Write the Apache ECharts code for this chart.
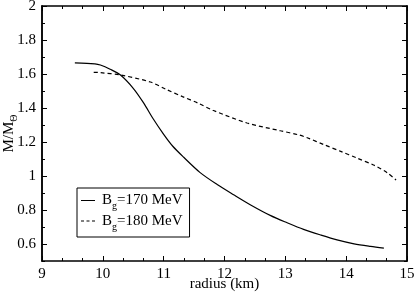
<!DOCTYPE html>
<html>
<head>
<meta charset="utf-8">
<script src="https://cdn.jsdelivr.net/npm/echarts@6/dist/echarts.min.js"></script>
<style>html,body{margin:0;padding:0;background:#fff}#c{width:415px;height:294px}</style>
</head>
<body>
<div id="c"></div>
<script>
// Data
const radius170 = [9.54, 9.87, 9.96, 10.12, 10.29, 10.50, 10.67, 10.83, 11.00, 11.15, 11.33, 11.60, 11.88, 12.15, 12.43, 12.76, 13.03, 13.30, 13.58, 13.85, 14.13, 14.40, 14.62];
const mass170   = [1.665, 1.660, 1.653, 1.628, 1.594, 1.516, 1.430, 1.335, 1.245, 1.175, 1.110, 1.020, 0.950, 0.890, 0.830, 0.767, 0.725, 0.686, 0.653, 0.624, 0.601, 0.586, 0.576];
const radius180 = [9.85, 9.96, 10.29, 10.78, 11.05, 11.31, 11.57, 11.82, 12.37, 12.92, 13.22, 13.36, 13.63, 13.91, 14.18, 14.46, 14.68, 14.82];
const mass180   = [1.610, 1.608, 1.594, 1.553, 1.508, 1.467, 1.428, 1.385, 1.312, 1.266, 1.242, 1.225, 1.185, 1.145, 1.105, 1.063, 1.018, 0.976];
const seriesNames = ['B_g=170 MeV', 'B_g=180 MeV'];
const yMajorTicks = [0.6, 0.8, 1.0, 1.2, 1.4, 1.6, 1.8, 2.0];
const yMinorTicks = [0.5, 0.7, 0.9, 1.1, 1.3, 1.5, 1.7, 1.9];
const xMin = 9, xMax = 15, yMin = 0.5, yMax = 2;

const FONT = 'Liberation Serif';
const chart = echarts.init(document.getElementById('c'));
const axisLine = {show: true, lineStyle: {color: '#000', width: 1.5}};
const baseX = {
  type: 'value', min: xMin, max: xMax, interval: 1,
  axisLine: axisLine,
  axisTick: {show: true, inside: true, length: 5, lineStyle: {color: '#000'}},
  minorTick: {show: true, splitNumber: 3, length: 3, lineStyle: {color: '#000'}},
  splitLine: {show: false}, minorSplitLine: {show: false}
};
const baseY = (pos, vals, len, labels) => ({
  type: 'value', min: yMin, max: yMax, position: pos,
  axisLine: axisLine,
  axisTick: {show: true, inside: true, length: len, customValues: vals, lineStyle: {color: '#000'}},
  axisLabel: labels ? {show: true, customValues: vals, color: '#000', fontFamily: FONT, fontSize: 15, margin: 6} : {show: false},
  splitLine: {show: false}
});

chart.setOption({
  animation: false,
  backgroundColor: '#fff',
  grid: {left: 42, right: 8, top: 6, bottom: 33, containLabel: false, outerBoundsMode: 'none'},
  legend: {
    orient: 'vertical', left: 77, top: 188,
    padding: [5, 7, 5, 4], itemGap: 2,
    borderColor: '#000', borderWidth: 1,
    itemWidth: 14, itemHeight: 1.2,
    data: [
      {name: seriesNames[0], icon: 'path://M0,0H14V1H0Z'},
      {name: seriesNames[1], icon: 'path://M0,0H3V1H0Z M5.5,0H8.5V1H5.5Z M11,0H14V1H11Z'}
    ],
    itemStyle: {color: '#000', borderWidth: 0},
    lineStyle: {width: 0},
    formatter: function (n) {
      const p = n.split('_g');
      return '{p|}{a|' + p[0] + '}{g|g}{a|' + p[1] + '}';
    },
    textStyle: {
      color: '#000', fontFamily: FONT, fontSize: 15,
      rich: {
        p: {width: 2},
        a: {fontFamily: FONT, fontSize: 15, color: '#000', lineHeight: 22, verticalAlign: 'middle'},
        g: {fontFamily: FONT, fontSize: 10, color: '#000', lineHeight: 10, verticalAlign: 'bottom'}
      }
    }
  },
  xAxis: [
    Object.assign({}, baseX, {
      position: 'bottom',
      axisLabel: {color: '#000', fontFamily: FONT, fontSize: 15, margin: 6},
      name: 'radius (km)', nameLocation: 'middle', nameGap: 16, nameMoveOverlap: false,
      nameTextStyle: {color: '#000', fontFamily: FONT, fontSize: 15}
    }),
    Object.assign({}, baseX, {position: 'top', axisLabel: {show: false}})
  ],
  yAxis: [
    Object.assign(baseY('left', yMajorTicks, 5, true), {
      name: '{a|M/M}{s|Θ}', nameLocation: 'middle', nameRotate: 90, nameGap: 23, nameMoveOverlap: false,
      nameTextStyle: {
        rich: {
          a: {fontFamily: FONT, fontSize: 15, color: '#000', lineHeight: 20, verticalAlign: 'middle'},
          s: {fontFamily: FONT, fontSize: 10, color: '#000', lineHeight: 10, verticalAlign: 'bottom'}
        }
      }
    }),
    baseY('left', yMinorTicks, 3, false),
    baseY('right', yMajorTicks, 5, false),
    baseY('right', yMinorTicks, 3, false)
  ],
  series: [
    {
      name: seriesNames[0], type: 'line', smooth: 0.3, showSymbol: false, symbol: 'none',
      xAxisIndex: 0, yAxisIndex: 0,
      data: radius170.map((r, i) => [r, mass170[i]]),
      lineStyle: {color: '#000', width: 1.2, type: 'solid'},
      itemStyle: {color: '#000'}
    },
    {
      name: seriesNames[1], type: 'line', smooth: 0.3, showSymbol: false, symbol: 'none',
      xAxisIndex: 0, yAxisIndex: 0,
      data: radius180.map((r, i) => [r, mass180[i]]),
      lineStyle: {color: '#000', width: 1.2, type: [4, 3]},
      itemStyle: {color: '#000'}
    }
  ]
});
</script>
</body>
</html>
